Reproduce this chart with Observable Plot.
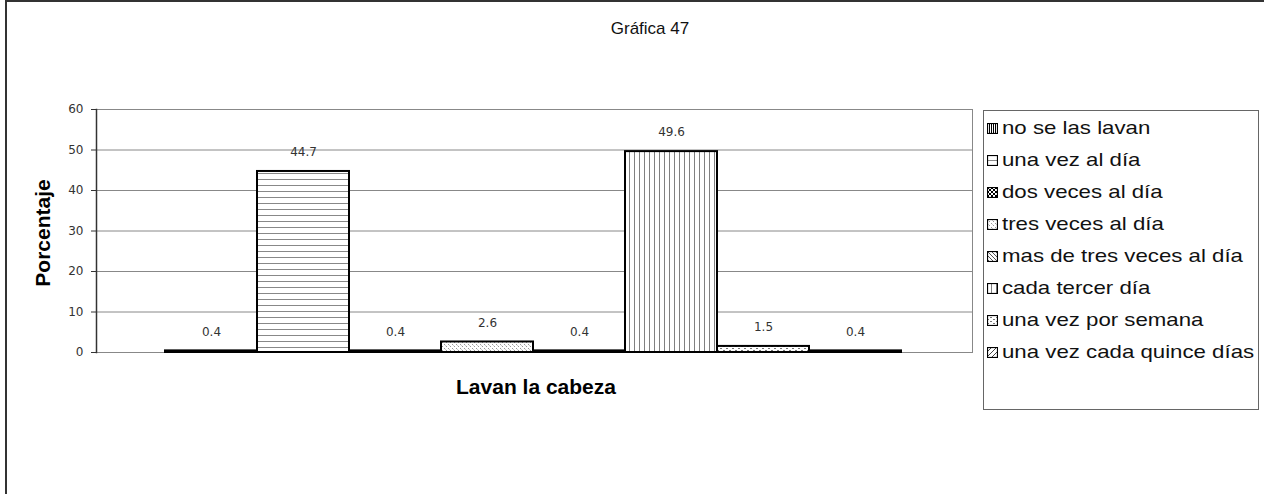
<!DOCTYPE html>
<html><head><meta charset="utf-8">
<script src="https://cdn.jsdelivr.net/npm/d3@7"></script>
<script src="https://cdn.jsdelivr.net/npm/@observablehq/plot@0.6"></script>
<style>
body{margin:0;background:#fff;}
#wrap{position:relative;width:1264px;height:494px;overflow:hidden;font-family:"Liberation Sans",Arial,sans-serif;}
#frame{position:absolute;left:5px;top:0px;width:1300px;height:600px;border-left:2px solid #333;border-top:2px solid #333;}
#chart{position:absolute;left:0;top:0;}
#title{position:absolute;left:550px;width:200px;top:19px;text-align:center;font-size:17px;color:#111;}
#ylab{position:absolute;left:43px;top:233px;transform:translate(-50%,-50%) rotate(-90deg);font-weight:bold;font-size:21px;white-space:nowrap;color:#000;}
#xlab{position:absolute;left:536px;top:387px;transform:translate(-50%,-50%);font-weight:bold;font-size:21px;white-space:nowrap;color:#000;}
#legend{position:absolute;left:983px;top:110px;width:276px;height:300px;border:1px solid #666;box-sizing:border-box;}
.li{position:absolute;left:3px;height:26px;display:flex;align-items:center;font-size:19px;color:#111;white-space:nowrap;}
.li svg{margin-right:4px;flex:none;}
.li span{display:inline-block;transform:scaleX(1.17);transform-origin:left center;}
</style></head>
<body>
<div id="wrap">
<div id="frame"></div>
<svg width="0" height="0" style="position:absolute">
<defs>
<pattern id="p0" width="2" height="4" patternUnits="userSpaceOnUse"><rect width="2" height="4" fill="#fff"/><rect width="1" height="4" fill="#000"/></pattern>
<pattern id="p1" width="8" height="6" patternUnits="userSpaceOnUse"><rect width="8" height="6" fill="#fff"/><rect y="5" width="8" height="1" fill="#888"/></pattern>
<pattern id="p2" width="4" height="4" patternUnits="userSpaceOnUse"><rect width="4" height="4" fill="#fff"/><rect width="2" height="2" fill="#000"/><rect x="2" y="2" width="2" height="2" fill="#000"/></pattern>
<pattern id="p3" width="4" height="4" patternUnits="userSpaceOnUse"><rect width="4" height="4" fill="#fff"/><rect width="1" height="1" fill="#999"/><rect x="2" y="2" width="1" height="1" fill="#999"/><rect x="1" y="1" width="1" height="1" fill="#ccc"/></pattern>
<pattern id="p4" width="4" height="4" patternUnits="userSpaceOnUse"><rect width="4" height="4" fill="#fff"/><path d="M0,0L4,4M-1,3L1,5M3,-1L5,1" stroke="#555" stroke-width="1"/></pattern>
<pattern id="p5" width="5" height="4" patternUnits="userSpaceOnUse"><rect width="5" height="4" fill="#fff"/><rect x="4.5" width="1" height="4" fill="#000"/></pattern>
<pattern id="p6" width="6" height="4" patternUnits="userSpaceOnUse"><rect width="6" height="4" fill="#fff"/><rect width="2" height="1" fill="#777"/><rect x="3" y="2" width="2" height="1" fill="#777"/></pattern>
<pattern id="p7" width="5" height="5" patternUnits="userSpaceOnUse"><rect width="5" height="5" fill="#fff"/><path d="M0,5L5,0M-1,1L1,-1M4,6L6,4" stroke="#444" stroke-width="1"/></pattern>
</defs></svg>
<div id="chart"></div>
<div id="title">Gráfica 47</div>
<div id="ylab">Porcentaje</div>
<div id="xlab">Lavan la cabeza</div>
<div id="legend"></div>
</div>
<script>
const series = ["no se las lavan","una vez al día","dos veces al día","tres veces al día","mas de tres veces al día","cada tercer día","una vez por semana","una vez cada quince días"];
const values = [0.4, 44.7, 0.4, 2.6, 0.4, 49.6, 1.5, 0.4];
const patterns = ["url(#p0)","url(#p1)","url(#p2)","url(#p3)","url(#p4)","url(#p5)","url(#p6)","url(#p7)"];
const yTicks = [0,10,20,30,40,50,60];

const data = series.map((s,i)=>({name:s, value:values[i], pat:patterns[i]}));

const chart = Plot.plot({
  width: 980, height: 400,
  marginLeft: 96, marginRight: 8, marginTop: 109, marginBottom: 48,
  style: {fontFamily: "DejaVu Sans, sans-serif", fontSize: "12px", color: "#333", background: "transparent"},
  x: {domain: series, padding: 0, insetLeft: 68, insetRight: 70, axis: null},
  y: {domain: [0,60], ticks: yTicks, label: null},
  color: {type: "identity"},
  marks: [
    Plot.gridY(yTicks, {stroke: "#888", strokeOpacity: 1}),
    Plot.frame({stroke: "#888"}),
    Plot.barY(data, {x: "name", y: "value", fill: "pat", stroke: "#000", strokeWidth: 2}),
    Plot.text(data, {x: "name", y: "value", text: d => d.value.toFixed(1), dy: -19, fill: "#333", fontSize: 12}),
    Plot.axisY(yTicks, {tickSize: 5, tickPadding: 8, stroke: "#333", fill: "#333", fontSize: 12, label: null}),
    Plot.frame({anchor: "left", stroke: "#333", strokeWidth: 1.5})
  ]
});
document.getElementById("chart").appendChild(chart);

const leg = document.getElementById("legend");
series.forEach((s,i)=>{
  const d = document.createElement("div");
  d.className = "li";
  d.style.top = (4 + i*32) + "px";
  d.innerHTML = `<svg width="11" height="11"><rect x="0.5" y="0.5" width="10" height="10" fill="${patterns[i]}" stroke="#000" stroke-width="1.2"/></svg><span>${s}</span>`;
  leg.appendChild(d);
});
</script>
</body></html>
